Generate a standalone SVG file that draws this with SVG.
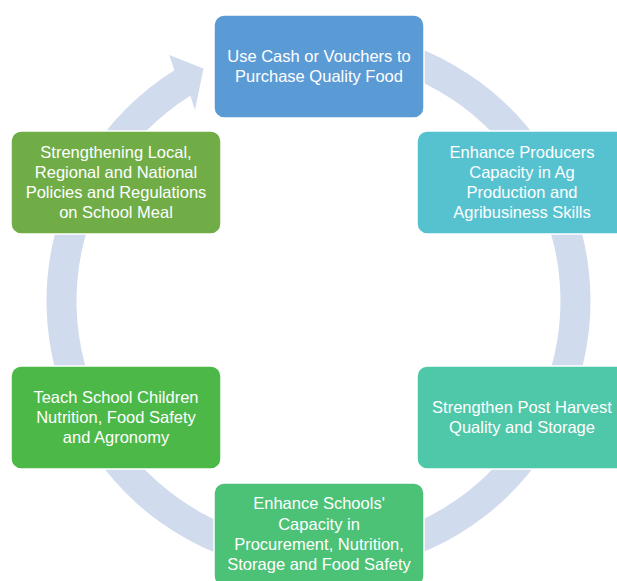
<svg xmlns="http://www.w3.org/2000/svg" width="617" height="581" viewBox="0 0 617 581">
<style>
.node rect{stroke:#ffffff;stroke-width:1.5}
.node text{font-family:"Liberation Sans",Arial,sans-serif;font-size:16.5px;fill:#ffffff;text-anchor:middle}
.ring{fill:#D1DBEE;stroke:none}
</style>
<rect width="617" height="581" fill="#ffffff"/>
<g id="connectors">
<path class="ring" d="M365.73,33.13 A272,272 0 1 1 174.36,70.33 L169.3,55 L203.5,68.5 L195,110 L190.26,95.77 A242,242 0 1 0 360.52,62.68 Z"/>
</g>
<g id="node-cash" class="node">
<rect x="214" y="15" width="210" height="103" rx="10" fill="#5B9BD5"/>
<text x="319" y="61.7">Use Cash or Vouchers to</text>
<text x="319" y="82.2">Purchase Quality Food</text>
</g>
<g id="node-producers" class="node">
<rect x="417" y="131" width="210" height="103" rx="10" fill="#56C2CF"/>
<text x="522" y="158.3">Enhance Producers</text>
<text x="522" y="178.3">Capacity in Ag</text>
<text x="522" y="198.3">Production and</text>
<text x="522" y="218.3">Agribusiness Skills</text>
</g>
<g id="node-postharvest" class="node">
<rect x="417" y="366" width="210" height="103" rx="10" fill="#4FC7A9"/>
<text x="522" y="413.3">Strengthen Post Harvest</text>
<text x="522" y="433.3">Quality and Storage</text>
</g>
<g id="node-schools" class="node">
<rect x="214" y="483" width="210" height="103" rx="10" fill="#4BC276"/>
<text x="319" y="509.3">Enhance Schools'</text>
<text x="319" y="529.5">Capacity in</text>
<text x="319" y="549.7">Procurement, Nutrition,</text>
<text x="319" y="569.9">Storage and Food Safety</text>
</g>
<g id="node-teach" class="node">
<rect x="11" y="366" width="210" height="103" rx="10" fill="#4CB848"/>
<text x="116" y="403.3">Teach School Children</text>
<text x="116" y="423.3">Nutrition, Food Safety</text>
<text x="116" y="443.3">and Agronomy</text>
</g>
<g id="node-policies" class="node">
<rect x="11" y="131" width="210" height="103" rx="10" fill="#70AD47"/>
<text x="116" y="158.3">Strengthening Local,</text>
<text x="116" y="178.3">Regional and National</text>
<text x="116" y="198.3">Policies and Regulations</text>
<text x="116" y="218.3">on School Meal</text>
</g>
</svg>
